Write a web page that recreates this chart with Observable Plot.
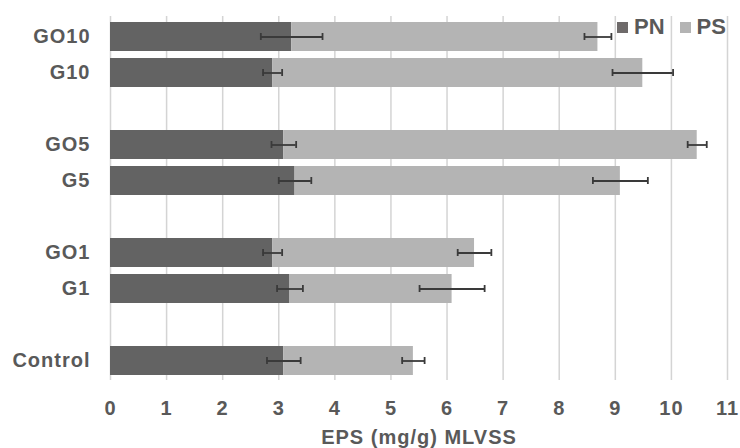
<!DOCTYPE html>
<html>
<head>
<meta charset="utf-8">
<script src="https://cdn.jsdelivr.net/npm/d3@7"></script>
<script src="https://cdn.jsdelivr.net/npm/@observablehq/plot@0.6"></script>
<style>
  body { margin: 0; background: #fff; }
  #wrap { position: relative; width: 740px; height: 448px; font-family: "Liberation Sans", Arial, sans-serif; }
  #legend { position: absolute; top: 14px; left: 617px; display: flex; align-items: center; color: #595959; font-weight: bold; font-size: 22px; }
  #legend .sw { width: 11px; height: 11px; display: inline-block; margin-right: 6px; }
  #legend .item { display: flex; align-items: center; margin-right: 15px; }
  svg text { letter-spacing: 1px; }
</style>
</head>
<body>
<div id="wrap"><div id="legend"></div></div>
<script>
const categories = ["GO10", "G10", " ", "GO5", "G5", "  ", "GO1", "G1", "   ", "Control"];
const groups = ["GO10", "G10", "GO5", "G5", "GO1", "G1", "Control"];
const pnValues = [3.23, 2.89, 3.09, 3.29, 2.89, 3.20, 3.09];
const psValues = [5.46, 6.60, 7.37, 5.80, 3.60, 2.89, 2.31];
const pnErrors = [0.55, 0.17, 0.22, 0.29, 0.17, 0.23, 0.30];
const psErrors = [0.24, 0.54, 0.17, 0.49, 0.30, 0.58, 0.20];
const seriesNames = ["PN", "PS"];
const seriesColors = ["#636363", "#b4b4b4"];
const xTicks = [0, 1, 2, 3, 4, 5, 6, 7, 8, 9, 10, 11];
const xLabel = "EPS (mg/g) MLVSS";

const bars = [];
const errs = [];
groups.forEach((g, i) => {
  bars.push({cat: g, series: "PN", value: pnValues[i]});
  bars.push({cat: g, series: "PS", value: psValues[i]});
  const pnEnd = pnValues[i];
  const total = pnValues[i] + psValues[i];
  errs.push({cat: g, x1: pnEnd - pnErrors[i], x2: pnEnd + pnErrors[i]});
  errs.push({cat: g, x1: total - psErrors[i], x2: total + psErrors[i]});
});

const textColor = "#595959";
const chart = Plot.plot({
  width: 740,
  height: 448,
  marginLeft: 110,
  marginRight: 13,
  marginTop: 16,
  marginBottom: 68,
  style: {fontFamily: "'Liberation Sans', Arial, sans-serif", fontSize: "20px", fontWeight: "bold", color: textColor, background: "#fff"},
  x: {domain: [0, 11]},
  y: {domain: categories, paddingInner: 0.2, paddingOuter: 0.1},
  color: {domain: seriesNames, range: seriesColors},
  marks: [
    Plot.gridX(xTicks, {stroke: "#d4d4d4", strokeOpacity: 1, strokeWidth: 1.5}),
    Plot.barX(bars, {x: "value", y: "cat", fill: "series"}),
    Plot.ruleY(errs, {y: "cat", x1: "x1", x2: "x2", stroke: "#3a3a3a", strokeWidth: 1.8}),
    Plot.tickX(errs, {x: "x1", y: "cat", stroke: "#3a3a3a", strokeWidth: 1.8, insetTop: 11, insetBottom: 11}),
    Plot.tickX(errs, {x: "x2", y: "cat", stroke: "#3a3a3a", strokeWidth: 1.8, insetTop: 11, insetBottom: 11}),
    Plot.axisX({ticks: xTicks, tickSize: 0, tickPadding: 20, fontSize: 20, label: xLabel, labelAnchor: "center", labelOffset: 63, labelArrow: "none"}),
    Plot.axisY({tickSize: 0, tickPadding: 20, fontSize: 20, label: null})
  ]
});
document.getElementById("wrap").prepend(chart);

const legend = document.getElementById("legend");
seriesNames.forEach((s, i) => {
  const item = document.createElement("span");
  item.className = "item";
  const sw = document.createElement("span");
  sw.className = "sw";
  sw.style.background = seriesColors[i] === "#636363" ? "#6e6a6a" : "#b4b4b4";
  const t = document.createElement("span");
  t.textContent = s;
  item.appendChild(sw);
  item.appendChild(t);
  legend.appendChild(item);
});
</script>
</body>
</html>
